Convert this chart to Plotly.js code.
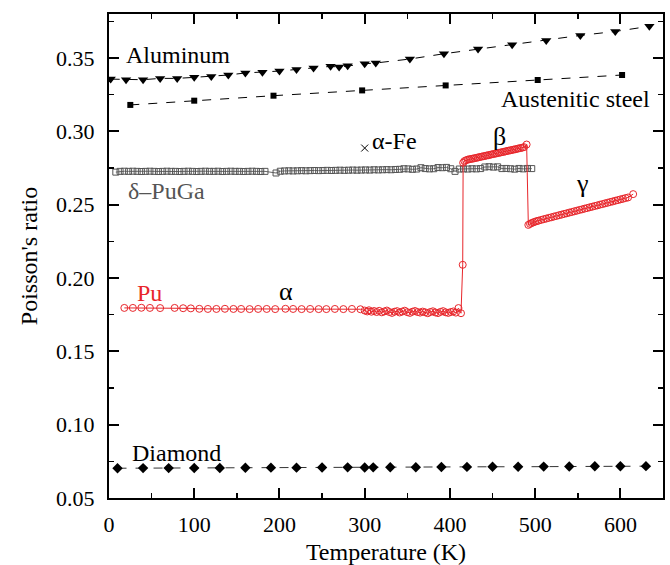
<!DOCTYPE html>
<html>
<head>
<meta charset="utf-8">
<script src="https://cdn.plot.ly/plotly-3.0.1.min.js"></script>
<style>html,body{margin:0;padding:0;background:#fff;}#chart{width:670px;height:565px;}</style>
</head>
<body>
<div id="chart"></div>
<script>
// ---- Data ----
const alT = [2, 20, 40, 60, 80, 100, 120, 140, 160, 180, 200, 220, 240, 260, 270, 280, 300, 313, 353, 393, 433, 473, 513, 553, 594, 634];
const alNu = [0.3356, 0.3352, 0.3352, 0.3361, 0.3361, 0.3368, 0.3374, 0.3384, 0.3398, 0.3402, 0.3411, 0.3422, 0.3432, 0.3443, 0.3438, 0.3447, 0.3461, 0.3466, 0.3493, 0.3529, 0.3561, 0.3591, 0.3620, 0.3654, 0.3681, 0.3716];

const steelT = [25, 100, 193, 297, 395, 503, 602];
const steelNu = [0.3180, 0.3209, 0.3243, 0.3279, 0.3313, 0.3350, 0.3384];

const feT = [300];
const feNu = [0.2886];

const puGaT = [8, 13, 18, 23, 28, 33, 38, 43, 48, 53, 58, 63, 68, 73, 78, 83, 88, 93, 98, 103,
  108, 113, 118, 123, 128, 133, 138, 143, 148, 153, 158, 163, 168, 173, 178, 183,
  196, 201, 206, 211, 216, 221, 226, 231, 236, 241, 246, 251, 256, 261, 266, 271, 276, 281, 286, 291,
  296, 301, 306, 311, 316, 321, 326, 331, 336, 341, 346, 351, 356, 361, 366, 371, 376, 381, 386, 391,
  396, 401, 406, 411, 416, 421, 426, 431, 436, 441, 446, 451, 456, 461, 466, 471, 476, 481, 486, 491, 496];
const puGaNu = [0.2722, 0.2727, 0.2728, 0.2727, 0.2728, 0.2727, 0.2726, 0.2727, 0.2728, 0.2727,
  0.2726, 0.2727, 0.2728, 0.2727, 0.2727, 0.2726, 0.2727, 0.2728, 0.2727, 0.2726,
  0.2727, 0.2728, 0.2727, 0.2727, 0.2728, 0.2726, 0.2727, 0.2728, 0.2727, 0.2727,
  0.2726, 0.2727, 0.2728, 0.2727, 0.2726, 0.2727,
  0.2716, 0.2728, 0.2730, 0.2731, 0.2730, 0.2731, 0.2732, 0.2731, 0.2732, 0.2733,
  0.2732, 0.2733, 0.2734, 0.2733, 0.2734, 0.2735, 0.2734, 0.2735, 0.2736, 0.2735,
  0.2736, 0.2737, 0.2736, 0.2738, 0.2737, 0.2738, 0.2739, 0.2738, 0.2740, 0.2741,
  0.2745, 0.2744, 0.2741, 0.2743, 0.2752, 0.2746, 0.2744, 0.2745, 0.2753, 0.2752,
  0.2754, 0.2745, 0.2727, 0.2743, 0.2744, 0.2743, 0.2745, 0.2744, 0.2746, 0.2757,
  0.2759, 0.2756, 0.2758, 0.2746, 0.2747, 0.2745, 0.2742, 0.2747, 0.2744, 0.2747, 0.2746];

const puAlphaT = [18, 28, 38, 48, 60, 77, 87, 96, 106, 116, 126, 136, 146, 155, 165, 175, 185, 195, 207, 216,
  226, 236, 246, 255, 265, 275, 285, 295,
  300, 303, 305, 308, 311, 314, 317, 320, 323, 326, 329, 332, 335, 338, 341, 344, 347, 350, 353, 356,
  359, 362, 365, 368, 371, 374, 377, 380, 383, 386, 389, 392, 395, 398, 401, 404, 407, 410, 413];
const puAlphaNu = [0.1796, 0.1796, 0.1797, 0.1796, 0.1795, 0.1796, 0.1794, 0.1793, 0.1790, 0.1789,
  0.1789, 0.1790, 0.1789, 0.1789, 0.1788, 0.1789, 0.1789, 0.1788, 0.1790, 0.1789,
  0.1788, 0.1789, 0.1788, 0.1788, 0.1789, 0.1788, 0.1789, 0.1787,
  0.1778, 0.1772, 0.1780, 0.1770, 0.1775, 0.1768, 0.1776, 0.1766, 0.1772, 0.1778,
  0.1768, 0.1762, 0.1770, 0.1774, 0.1765, 0.1771, 0.1777, 0.1767, 0.1762, 0.1770,
  0.1775, 0.1768, 0.1764, 0.1771, 0.1766, 0.1760, 0.1768, 0.1773, 0.1765, 0.1761,
  0.1769, 0.1774, 0.1766, 0.1762, 0.1768, 0.1772, 0.1764, 0.1795, 0.1760];
const puJumpT = [415];
const puJumpNu = [0.2090];
const puBetaT = [415.5, 417, 419, 421, 423, 425, 427, 429, 431, 433, 435, 437, 439, 441, 443, 445, 447, 449, 451, 453,
  455, 457, 459, 461, 463, 465, 467, 469, 471, 473, 475, 477, 479, 481, 483, 485, 487, 490];
const puBetaNu = [0.2786, 0.2797, 0.2803, 0.2807, 0.2810, 0.2812, 0.2814, 0.2817, 0.2819, 0.2822,
  0.2825, 0.2827, 0.2830, 0.2832, 0.2835, 0.2837, 0.2840, 0.2843, 0.2845, 0.2848,
  0.2850, 0.2853, 0.2855, 0.2858, 0.2860, 0.2863, 0.2866, 0.2868, 0.2871, 0.2873,
  0.2876, 0.2878, 0.2881, 0.2884, 0.2886, 0.2889, 0.2892, 0.2910];
const puGammaT = [492, 494, 496, 498, 500, 502, 504, 507, 510, 513, 516, 519, 522, 525, 528, 531, 534, 537, 540,
  543, 546, 549, 552, 555, 558, 561, 564, 567, 570, 573, 576, 579, 582, 585, 588, 591, 594, 597, 600, 603, 606, 609, 615];
const puGammaNu = [0.2362, 0.2369, 0.2375, 0.2380, 0.2384, 0.2388, 0.2391,
  0.2396, 0.2401, 0.2405, 0.2410, 0.2414, 0.2419, 0.2423, 0.2428, 0.2432, 0.2437, 0.2441, 0.2446,
  0.2450, 0.2455, 0.2459, 0.2464, 0.2468, 0.2473, 0.2477, 0.2482, 0.2486, 0.2491, 0.2495, 0.2500,
  0.2504, 0.2509, 0.2513, 0.2518, 0.2522, 0.2527, 0.2531, 0.2536, 0.2540, 0.2545, 0.2549, 0.2572];

const diamondT = [10, 40, 70, 100, 130, 160, 190, 220, 250, 280, 300, 310, 330, 360, 390, 420, 450, 480, 510, 540, 570, 600, 630];
const diamondNu = [0.0703, 0.0704, 0.0704, 0.0705, 0.0705, 0.0706, 0.0707, 0.0707, 0.0708, 0.0709, 0.0708, 0.0709,
  0.0710, 0.0710, 0.0711, 0.0712, 0.0713, 0.0713, 0.0714, 0.0715, 0.0716, 0.0716, 0.0717];

const labels = [
  {text: 'Aluminum', x: 18, y: 0.3522, color: '#000', size: 24},
  {text: 'Austenitic steel', x: 458, y: 0.3222, color: '#000', size: 24},
  {text: 'α-Fe', x: 306, y: 0.2936, color: '#000', size: 24},
  {text: 'δ–PuGa', x: 20, y: 0.2590, color: '#555', size: 24},
  {text: 'β', x: 448, y: 0.2965, color: '#000', size: 26},
  {text: 'γ', x: 546, y: 0.2647, color: '#000', size: 26},
  {text: 'α', x: 197, y: 0.1908, color: '#000', size: 26},
  {text: 'Pu', x: 30, y: 0.1897, color: '#e8262b', size: 24},
  {text: 'Diamond', x: 25, y: 0.0808, color: '#000', size: 24}
];

// ---- Build traces ----
const RED = '#e8262b';
const FONT = 'Liberation Serif';
const puT = puAlphaT.concat(puJumpT, puBetaT, puGammaT);
const puNu = puAlphaNu.concat(puJumpNu, puBetaNu, puGammaNu);

const traces = [
  {x: alT, y: alNu, mode: 'lines+markers', line: {color: '#000', width: 1, dash: 'dash'},
   marker: {symbol: 'triangle-down', size: 9, color: '#000'}},
  {x: steelT, y: steelNu, mode: 'lines+markers', line: {color: '#000', width: 1, dash: 'dash'},
   marker: {symbol: 'square', size: 6, color: '#000'}},
  {x: diamondT, y: diamondNu, mode: 'lines+markers', line: {color: '#333', width: 1, dash: 'dash'},
   marker: {symbol: 'diamond', size: 8, color: '#000'}},
  {x: puGaT, y: puGaNu, mode: 'lines+markers', line: {color: '#666', width: 1},
   marker: {symbol: 'square-open', size: 6, color: '#555', line: {width: 1}}},
  {x: feT, y: feNu, mode: 'markers',
   marker: {symbol: 'x-thin', size: 7, color: '#000', line: {width: 1, color: '#000'}}},
  {x: puT, y: puNu, mode: 'lines+markers', line: {color: RED, width: 1},
   marker: {symbol: 'circle-open', size: 7, color: RED, line: {width: 1}}}
];

const axisCommon = {
  showgrid: false, zeroline: false, showline: true, linewidth: 2, linecolor: '#000',
  mirror: 'allticks', ticks: 'inside', ticklen: 10, tickwidth: 2, tickcolor: '#000',
  tickfont: {family: FONT, size: 22, color: '#000'}
};

const layout = {
  width: 670, height: 565,
  margin: {l: 109, r: 7, t: 14, b: 67},
  paper_bgcolor: '#fff', plot_bgcolor: '#fff',
  showlegend: false,
  font: {family: FONT, color: '#000'},
  xaxis: Object.assign({}, axisCommon, {
    range: [0, 650], dtick: 100, tick0: 0, ticklabelstandoff: 6,
    minor: {dtick: 50, ticks: 'inside', ticklen: 5, tickwidth: 1.5, tickcolor: '#000'},
    title: {text: 'Temperature (K)', font: {family: FONT, size: 24, color: '#000'}, standoff: 10}
  }),
  yaxis: Object.assign({}, axisCommon, {
    range: [0.05, 0.38], dtick: 0.05, tick0: 0.05, tickformat: '.2f', ticklabelstandoff: 8,
    minor: {dtick: 0.025, ticks: 'inside', ticklen: 5, tickwidth: 1.5, tickcolor: '#000'},
    title: {text: "Poisson's ratio", font: {family: FONT, size: 24, color: '#000'}, standoff: 12}
  }),
  annotations: labels.map(l => ({
    x: l.x, y: l.y, xref: 'x', yref: 'y', text: l.text, showarrow: false,
    xanchor: 'left', yanchor: 'middle',
    font: {family: FONT, size: l.size, color: l.color}
  }))
};

Plotly.newPlot('chart', traces, layout, {displayModeBar: false, staticPlot: true});
</script>
</body>
</html>
